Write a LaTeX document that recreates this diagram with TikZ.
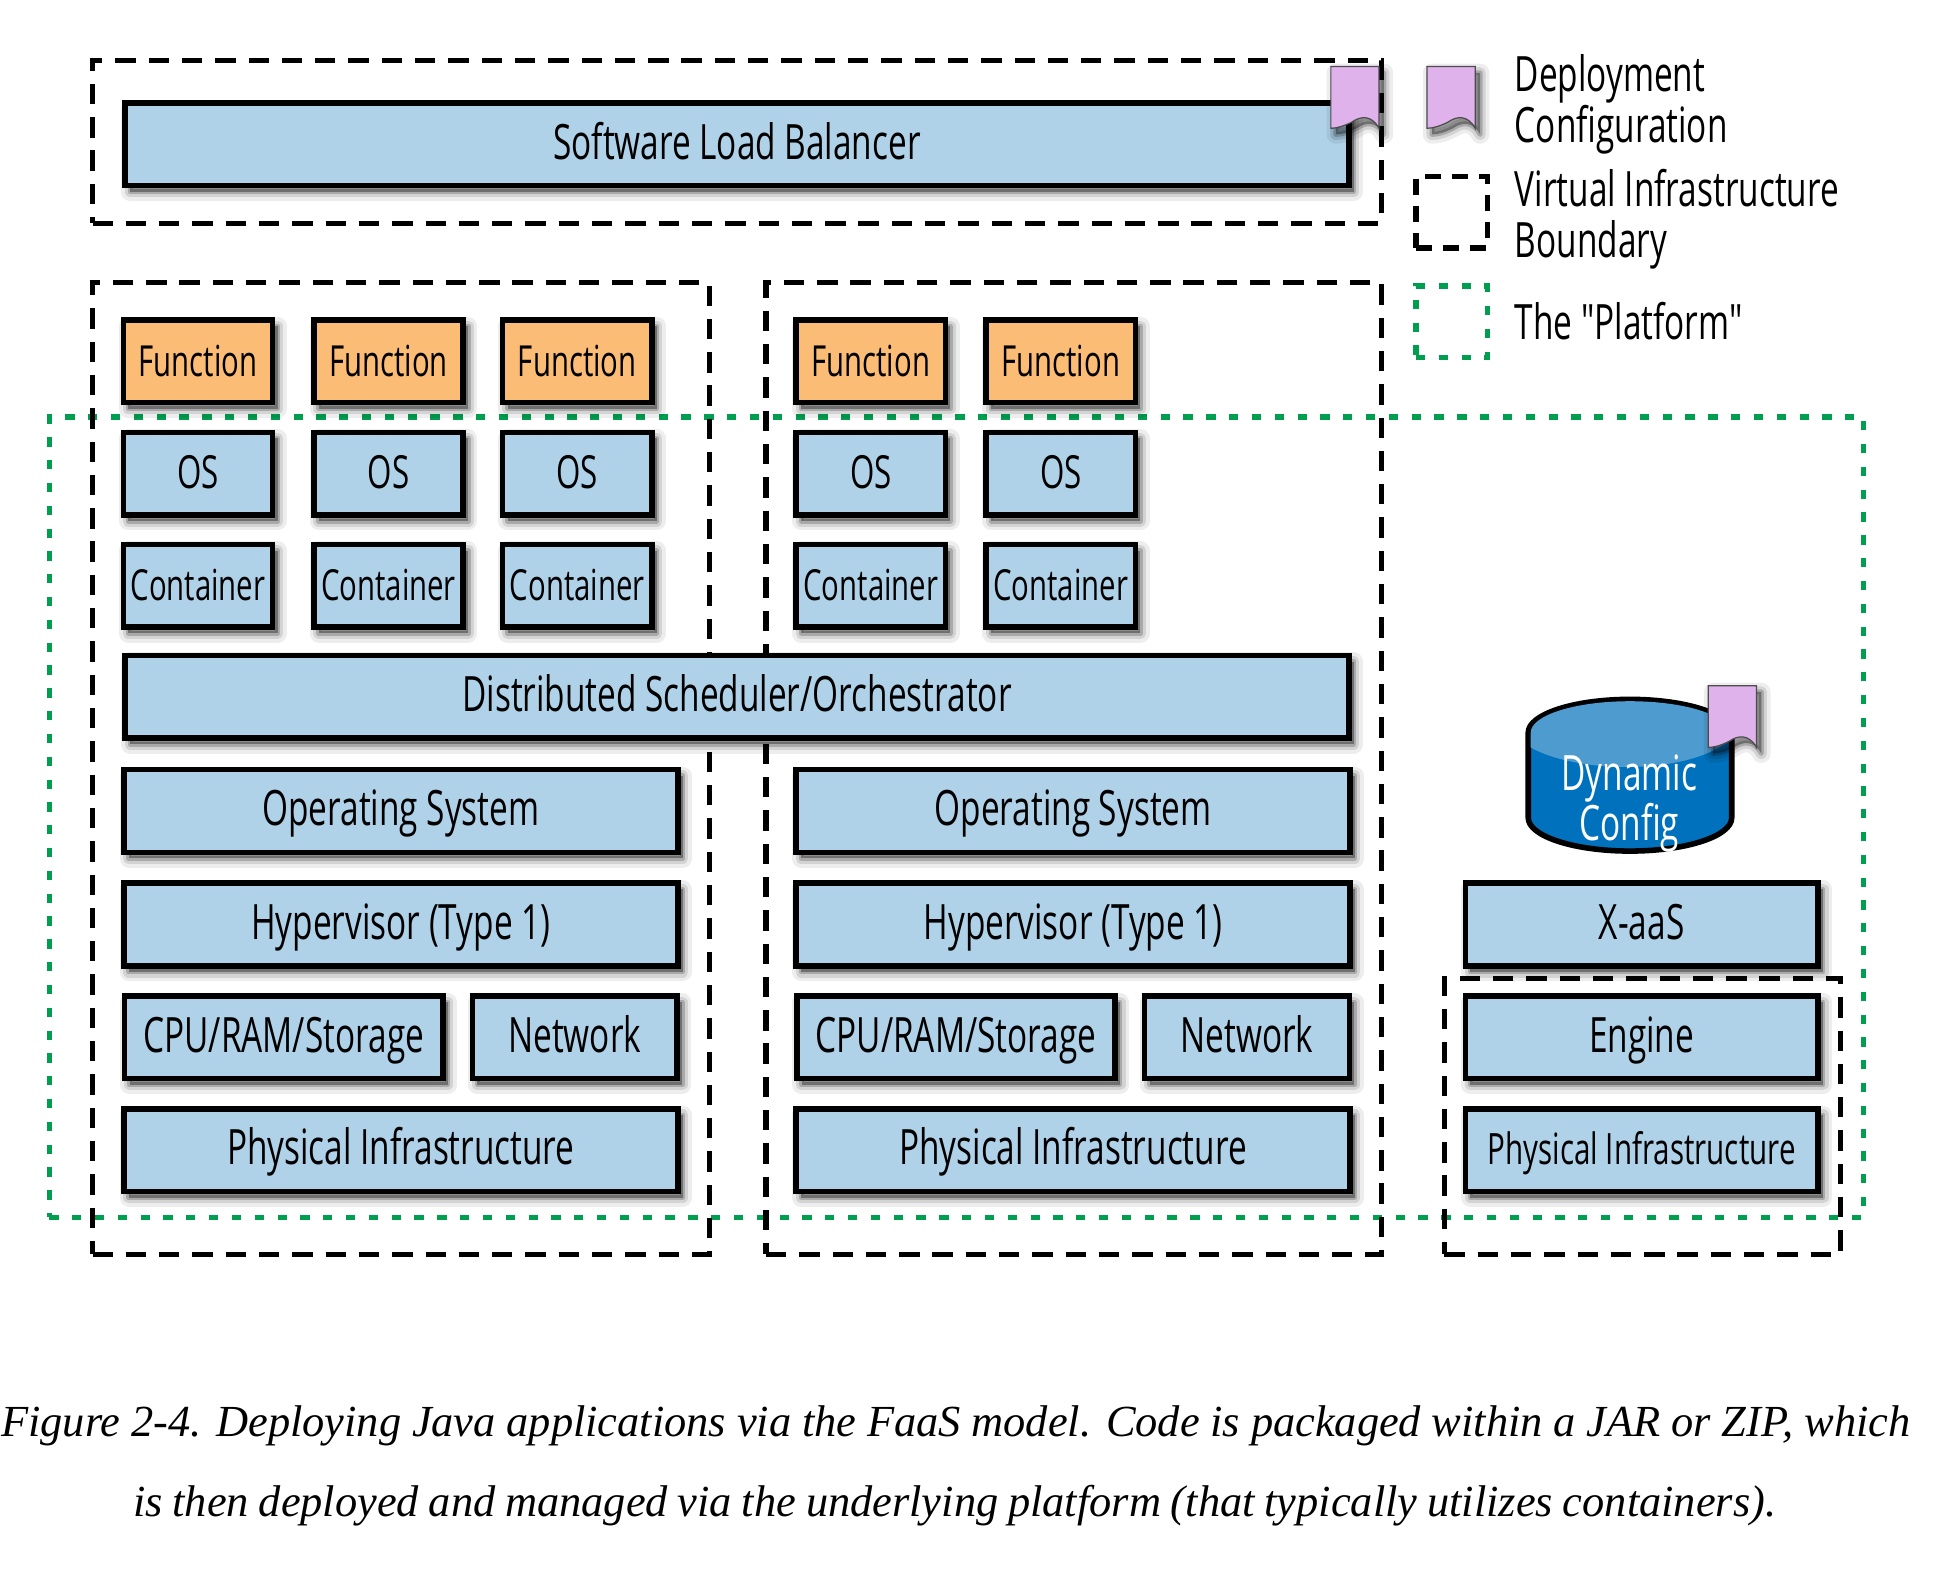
\documentclass[tikz,border=0pt]{standalone}
\usepackage{fontspec}
\setmainfont{Liberation Serif}
\newfontfamily\boxfont[FakeStretch=0.685]{Open Sans}
\newfontfamily\capfont{Liberation Serif}
\definecolor{boxblue}{HTML}{AFD2E9}
\definecolor{funcorange}{HTML}{FBBC75}
\definecolor{flagpink}{HTML}{E0B2EC}
\definecolor{platgreen}{HTML}{009E4F}
\definecolor{cylbody}{HTML}{0071BC}
\definecolor{cyltop}{HTML}{4E9BD0}

\begin{document}
\begin{tikzpicture}[x=1pt,y=-1pt]
\tikzset{softshadow/.style={
  preaction={fill=black,draw=black,opacity=.07,line join=round,line width=15pt,transform canvas={shift={(4pt,-5pt)}}},
  preaction={fill=black,draw=black,opacity=.11,line join=round,line width=9pt,transform canvas={shift={(4pt,-5pt)}}},
  preaction={fill=black,draw=black,opacity=.2,line join=round,line width=4pt,transform canvas={shift={(4pt,-5pt)}}}}}
\tikzset{bluebox/.style={softshadow, draw=black, fill=boxblue, line width=4.5pt, inner sep=0pt, minimum height=67pt, text=black, text height=30pt, text depth=6pt, font=\boxfont\fontsize{39.5}{46}\selectfont}}
\tikzset{tinybox/.style={bluebox, minimum width=121pt}}
\tikzset{funcbox/.style={tinybox, fill=funcorange, font=\boxfont\fontsize{34.7}{40}\selectfont}}
\tikzset{osbox/.style={tinybox, font=\boxfont\fontsize{37}{44}\selectfont}}
\tikzset{contbox/.style={tinybox, font=\boxfont\fontsize{34.7}{40}\selectfont}}
\tikzset{widebox/.style={bluebox, minimum width=449pt}}
\tikzset{sidebox/.style={bluebox, minimum width=286pt}}
\tikzset{boundary/.style={draw=black, line width=4.2pt, inner sep=0pt, dash pattern=on 16.5pt off 10.5pt}}
\tikzset{platform/.style={draw=platgreen, line width=4.5pt, inner sep=0pt, dash pattern=on 7.5pt off 11pt}}
\tikzset{legendtext/.style={anchor=west, inner sep=0pt, align=left, font=\boxfont\fontsize{39.5}{41.5}\selectfont}}
\tikzset{configflag/.pic={
  \path[softshadow, fill=flagpink, draw=black!70, line width=1pt] (0,0) -- (39,0) -- (39,50) .. controls (33,39) and (24,40) .. (17,45) .. controls (11,48) and (5,50) .. (0,50) -- cycle;}}
\useasboundingbox (0,0) rectangle (1568,1277.8);

% the boundaries, behind the boxes
\node[platform, minimum width=1471pt, minimum height=649pt] (Plat) at (775.5,662.5) {};
\node[boundary, minimum width=1045pt, minimum height=132pt] (VLB) at (597.5,115) {};
\node[boundary, minimum width=500pt, minimum height=788pt] (VA) at (325,623) {};
\node[boundary, minimum width=499pt, minimum height=788pt] (VB) at (870.5,623) {};
\node[boundary, minimum width=321pt, minimum height=224pt] (VX) at (1331.5,905) {};

\node[bluebox, minimum width=992pt] (LB) at (597.5,117) {Software Load Balancer};
\pic (FlagLB) at (1079,54) {configflag};

\node[funcbox] (F1) at (160.5,293) {Function};
\node[funcbox] (F2) at (315,293) {Function};
\node[funcbox] (F3) at (468,293) {Function};
\node[funcbox] (F4) at (706,293) {Function};
\node[funcbox] (F5) at (860,293) {Function};
\node[osbox] (O1) at (160.5,384) {OS};
\node[osbox] (O2) at (315,384) {OS};
\node[osbox] (O3) at (468,384) {OS};
\node[osbox] (O4) at (706,384) {OS};
\node[osbox] (O5) at (860,384) {OS};
\node[contbox] (C1) at (160.5,475) {Container};
\node[contbox] (C2) at (315,475) {Container};
\node[contbox] (C3) at (468,475) {Container};
\node[contbox] (C4) at (706,475) {Container};
\node[contbox] (C5) at (860,475) {Container};

\node[bluebox, minimum width=992pt] (Sched) at (597.5,565) {Distributed Scheduler/Orchestrator};

\node[widebox] (OSA) at (325,657.5) {Operating System};
\node[widebox] (HypA) at (325,749.5) {Hypervisor (Type 1)};
\node[bluebox, minimum width=258pt] (CpuA) at (230,841) {CPU/RAM/Storage};
\node[bluebox, minimum width=166pt] (NetA) at (466,841) {Network};
\node[widebox] (PhysA) at (325,932.5) {Physical Infrastructure};

\node[widebox] (OSB) at (870,657.5) {Operating System};
\node[widebox] (HypB) at (870,749.5) {Hypervisor (Type 1)};
\node[bluebox, minimum width=258pt] (CpuB) at (775,841) {CPU/RAM/Storage};
\node[bluebox, minimum width=166pt] (NetB) at (1011,841) {Network};
\node[widebox] (PhysB) at (870,932.5) {Physical Infrastructure};

\node[sidebox] (Xaas) at (1331,749.5) {X-aaS};
\node[sidebox] (Engine) at (1331,841) {Engine};
\node[sidebox, font=\boxfont\fontsize{35}{41}\selectfont] (PhysX) at (1331,932.5) {Physical Infrastructure};

% the store
\path[fill=cylbody, draw=black, line width=4.5pt] (1239,594) arc[x radius=82.5, y radius=27, start angle=180, end angle=360] -- (1404,663) arc[x radius=82.5, y radius=27, start angle=0, end angle=180] -- cycle;
\fill[cyltop] (1241,594) arc[x radius=80.5, y radius=25.5, start angle=180, end angle=360] -- (1402,600) .. controls (1370,628) and (1280,628) .. (1241,606) -- cycle;
\node[inner sep=0pt, align=center, text=white, font=\boxfont\fontsize{39.5}{41}\selectfont] (Store) at (1321,651.5) {Dynamic\\Config};
\pic (FlagStore) at (1385,556) {configflag};

% the key
\pic (FlagKey) at (1157,54) {configflag};
\node[boundary, minimum width=58pt, minimum height=58pt, dash pattern=on 13pt off 9pt] (KeyV) at (1177,172) {};
\node[platform, minimum width=58pt, minimum height=58pt] (KeyP) at (1177,261) {};
\node[legendtext] (TxtD) at (1228,84.5) {Deployment\\Configuration};
\node[legendtext] (TxtV) at (1228,177.5) {Virtual Infrastructure\\Boundary};
\node[legendtext] (TxtP) at (1228,260) {The "Platform"};

\node[inner sep=0pt, font=\capfont\itshape\fontsize{36}{44}\selectfont] (Cap1) at (775,1156) {\makebox[1548pt][s]{Figure 2-4. Deploying Java applications via the FaaS model. Code is packaged within a JAR or ZIP, which}};
\node[inner sep=0pt, font=\capfont\itshape\fontsize{36}{44}\selectfont] (Cap2) at (774,1221) {\makebox[1332pt][s]{is then deployed and managed via the underlying platform (that typically utilizes containers).}};
\end{tikzpicture}
\end{document}
